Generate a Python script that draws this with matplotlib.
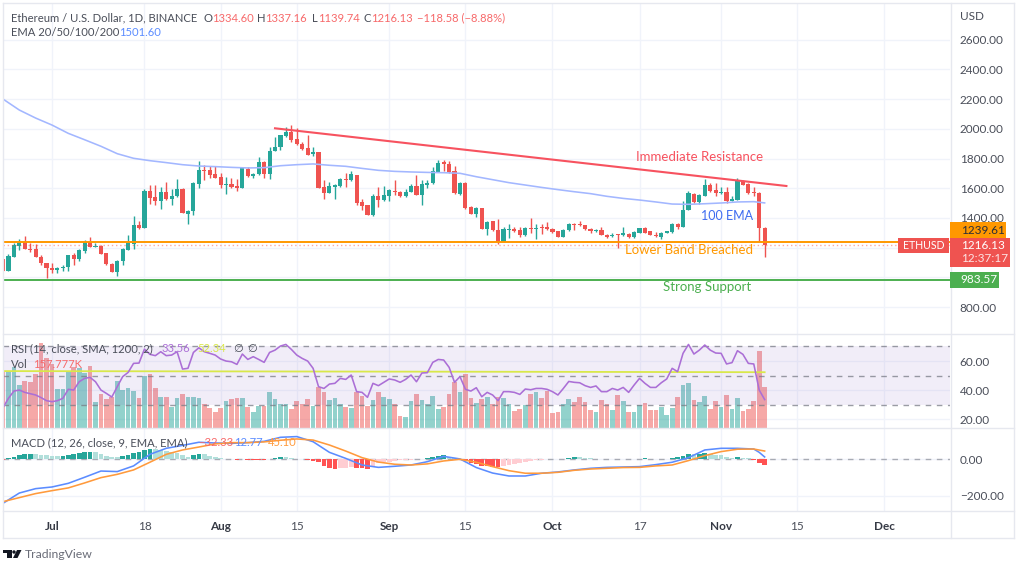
import matplotlib
matplotlib.use("Agg")
import matplotlib.pyplot as plt
from matplotlib.patches import Rectangle, Polygon, Circle

W, H = 1024, 571
plt.rcParams['font.family'] = ['Lato', 'DejaVu Sans']

opens = [1122,1045,1139,1214,1241,1193,1189,1139,1097,1063,1052,1061,1070,1148,1124,1180,1236,1207,1214,1162,1092,1034,1108,1184,1225,1351,1333,1580,1539,1517,1575,1530,1548,1595,1429,1445,1631,1723,1721,1694,1674,1624,1629,1615,1602,1732,1685,1694,1777,1699,1849,1876,1950,1981,1934,1901,1874,1829,1842,1609,1571,1611,1615,1663,1654,1692,1508,1485,1418,1548,1521,1550,1584,1573,1550,1577,1615,1553,1624,1633,1712,1775,1766,1714,1564,1636,1474,1429,1467,1328,1377,1319,1241,1321,1326,1317,1285,1335,1324,1337,1337,1326,1310,1270,1319,1360,1357,1351,1328,1312,1319,1285,1279,1292,1283,1294,1272,1301,1335,1310,1288,1274,1301,1306,1360,1337,1454,1562,1505,1550,1622,1589,1566,1575,1517,1523,1651,1627,1573,1566,1334.6]
highs = [1122,1157,1234,1256,1279,1234,1225,1151,1099,1095,1072,1083,1151,1166,1191,1252,1274,1229,1218,1166,1095,1117,1196,1285,1413,1382,1593,1624,1624,1606,1645,1593,1660,1600,1454,1642,1782,1757,1750,1750,1705,1674,1672,1660,1737,1746,1705,1813,1786,1880,1943,1961,2015,2024,2004,1914,1957,1880,1842,1656,1645,1629,1667,1701,1719,1692,1526,1487,1562,1606,1615,1593,1656,1584,1593,1629,1690,1656,1656,1746,1791,1791,1784,1750,1645,1645,1481,1472,1467,1382,1382,1391,1342,1357,1342,1337,1342,1398,1360,1360,1371,1330,1315,1324,1364,1364,1382,1355,1335,1324,1342,1292,1301,1292,1342,1301,1310,1333,1340,1315,1306,1306,1315,1364,1364,1517,1584,1571,1562,1660,1638,1633,1606,1611,1548,1672,1656,1638,1606,1575,1337.16]
lows = [1045,1045,1139,1184,1191,1173,1135,1083,998,1032,1032,1045,1045,1083,1110,1162,1202,1205,1155,1083,1034,1009,1083,1184,1191,1324,1333,1494,1487,1458,1521,1487,1544,1434,1357,1420,1600,1656,1672,1667,1604,1562,1600,1582,1602,1678,1667,1690,1667,1663,1849,1858,1948,1912,1889,1858,1822,1820,1600,1528,1566,1528,1606,1606,1649,1487,1454,1418,1416,1476,1517,1517,1555,1539,1539,1573,1555,1487,1600,1629,1707,1717,1701,1559,1557,1463,1425,1409,1324,1283,1315,1225,1241,1263,1306,1274,1279,1301,1256,1290,1319,1301,1270,1270,1315,1319,1346,1319,1301,1308,1283,1265,1274,1196,1279,1267,1267,1297,1297,1283,1270,1256,1297,1301,1328,1337,1454,1503,1494,1550,1577,1548,1562,1503,1517,1523,1622,1562,1550,1241,1139.74]
closes = [1045,1144,1218,1241,1191,1184,1135,1095,1063,1052,1061,1072,1148,1124,1184,1236,1207,1214,1160,1090,1034,1112,1189,1229,1355,1330,1580,1535,1517,1575,1528,1548,1595,1434,1447,1636,1721,1719,1692,1672,1624,1629,1611,1602,1737,1681,1694,1775,1699,1853,1880,1957,1981,1927,1896,1867,1824,1844,1600,1571,1615,1624,1663,1654,1696,1503,1483,1418,1550,1521,1553,1586,1573,1548,1577,1615,1555,1627,1633,1714,1773,1764,1707,1571,1636,1465,1429,1467,1328,1373,1319,1241,1324,1326,1315,1285,1333,1324,1333,1333,1324,1308,1274,1319,1362,1351,1353,1326,1310,1319,1288,1272,1288,1285,1297,1272,1306,1330,1301,1285,1281,1297,1312,1362,1337,1454,1566,1508,1555,1622,1584,1571,1575,1514,1528,1649,1622,1566,1566,1334,1216.13]

volumes_k = [215,215,237,166,182,177,209,327,269,246,149,149,217,237,233,213,239,98,131,111,120,181,146,156,142,114,200,209,155,120,120,81,114,131,119,119,114,94,75,63,75,105,111,114,116,81,61,84,84,140,111,94,91,74,102,91,110,84,159,137,107,116,91,81,75,137,124,85,107,137,118,110,91,45,43,102,131,107,91,125,72,81,131,178,137,209,114,96,112,119,94,120,114,94,66,72,88,131,137,114,144,58,61,91,110,101,119,101,67,61,107,92,70,128,102,61,61,89,96,70,70,80,49,75,119,166,175,107,98,125,72,102,81,128,72,114,66,72,102,297,157.777]

rsi_values = [28.0,34.4,39.4,40.1,38.5,37.6,36.7,34.9,32.8,32.1,32.8,34.4,40.6,40.1,45.8,48.1,48.8,45.8,40.1,37.8,35.3,42.4,49.3,52.2,58.4,58.6,68.2,64.6,63.7,66.4,63.7,64.1,66.4,54.5,55.0,65.9,69.1,66.4,65.3,64.1,61.4,60.0,59.5,57.7,64.8,61.1,63.0,61.1,59.1,65.9,67.5,70.3,71.4,68.0,64.1,61.8,60.0,55.0,42.4,41.2,44.2,44.7,48.1,47.4,50.4,39.0,38.5,35.1,44.7,43.1,45.4,47.7,47.0,45.4,47.4,50.4,45.8,51.8,52.0,59.1,61.1,60.7,55.7,45.4,49.3,40.6,39.4,41.7,35.5,38.5,36.7,32.8,39.0,39.0,38.5,37.1,40.8,40.3,41.2,41.2,40.6,39.0,36.7,41.2,46.0,45.4,45.1,43.1,41.9,42.9,39.0,39.0,41.2,40.1,41.9,38.5,43.5,48.1,44.7,41.9,41.9,45.1,47.7,55.0,52.7,65.3,71.4,64.8,67.5,71.0,67.5,65.5,65.3,58.0,58.9,67.1,64.6,58.4,58.0,40.1,33.56]
rsi_ma_idx = [0, 60, 100, 140]
rsi_ma_values = [53.1, 52.8, 52.6, 52.34]

macd_hist = [-5,5,15,24,27,31,27,24,22,20,16,20,24,29,33,38,40,38,29,20,15,11,20,24,33,38,51,56,55,51,47,42,33,24,15,24,29,27,20,15,5,2,0.5,-5,-1,-4,-4,-4,-4,2,9,15,15,9,4,1,-2,-7,-16,-36,-45,-53,-49,
             -45,-40,-49,-49,-55,-35,-22,-16,-13,-9,-5,-4,-2,1,2,5,11,20,24,15,5,2,-9,-22,-27,-35,-36,-42,-44,-35,-31,-27,-22,-16,-11,-5,-4,1,1,1,4,9,13,13,9,5,2,1,1,1,1,4,1,2,4,5,2,2,4,4,7,11,
             20,27,27,31,35,27,24,22,15,9,11,9,5,-2,-22,-32.33]
macd_idx = [0,3,6,9,12,15,18,21,24,27,30,33,36,39,42,45,48,51,54,57,60,63,66,69,72,75,78,81,84,87,90,93,96,99,102,105,108,111,114,117,120,123,126,129,132,135,138,139,140]
macd_line = [-240,-184,-160,-151,-131,-98,-64,-67,-36,27,60,76,93,89,87,91,98,120,124,96,38,5,-31,-44,-38,-31,-13,16,2,-45,-75,-91,-91,-76,-69,-58,-49,-44,-42,-40,-29,-16,9,51,60,60,56,38,12.77]
signal_idx = [0,3,6,9,12,15,18,21,24,27,30,33,36,39,42,45,48,51,54,57,60,63,66,69,72,75,78,81,84,87,90,93,96,99,102,105,108,111,114,117,120,123,126,129,132,135,138,140]
signal_line = [-231,-209,-187,-171,-156,-129,-100,-82,-58,-16,27,51,67,84,91,91,95,104,111,105,78,45,9,-15,-27,-31,-25,-9,0,-16,-40,-62,-76,-76,-71,-60,-53,-49,-45,-44,-36,-31,-7,20,42,55,56,45.1]
ema_idx = signal_idx
ema100 = [2201,2127,2073,2026,1970,1927,1883,1833,1802,1786,1773,1759,1750,1746,1741,1737,1739,1752,1759,1764,1755,1748,1734,1721,1714,1710,1707,1705,1701,1678,1658,1638,1622,1606,1591,1577,1564,1546,1532,1521,1508,1494,1492,1496,1501,1508,1510,1501.6]

trend_days = [41, 135]
trend_prices = [2004, 1615.5]
level_lower = 1239.61
level_support = 983.57
last_price = 1216.13

price_ticks = [800,1000,1200,1400,1600,1800,2000,2200,2400,2600]
price_labels = ['800.00','','','1400.00','1600.00','1800.00','2000.00','2200.00','2400.00','2600.00']
rsi_ticks = [20,40,60]
rsi_labels = ['20.00','40.00','60.00']
macd_ticks = [-200,0]
macd_labels = ['\u2212200.00','0.00']
time_days = [0,17,31,45,62,76,92,108,123,137,153]
time_labels = ['Jul','18','Aug','15','Sep','15','Oct','17','Nov','15','Dec']
month_names = {'Jul','Aug','Sep','Oct','Nov','Dec'}

assert all(len(a) == 141 for a in (opens, highs, lows, closes, volumes_k, rsi_values, macd_hist)), \
    [len(a) for a in (opens, highs, lows, closes, volumes_k, rsi_values, macd_hist)]

GREEN, RED = '#26a69a', '#ef5350'
GRID = '#f0f3fa'
BORDER = '#e6e8ef'
TXT = '#4a4e59'
FS = 8.5
LEG = 8.1
days = [i - 9 for i in range(141)]
colors = [GREEN if c >= o else RED for o, c in zip(opens, closes)]

fig = plt.figure(figsize=(W/100, H/100), dpi=100, facecolor='white')

def pane(x0, y0, x1, y1):
    return fig.add_axes([x0/W, 1-y1/H, (x1-x0)/W, (y1-y0)/H])

XL = (-9.0, 165.07)
def style(ax, yticks, ylabels):
    ax.set_xlim(*XL)
    ax.set_xticks(time_days)
    ax.set_xticklabels([])
    ax.set_yticks(yticks)
    ax.set_yticklabels(ylabels)
    ax.tick_params(axis='both', length=0, labelsize=FS, labelcolor=TXT, pad=7)
    ax.grid(True, color=GRID, lw=1)
    ax.set_axisbelow(True)
    for s in ax.spines.values():
        s.set_visible(False)

# ---- price pane
ax = pane(3, 3, 950, 337)
ax.set_ylim(598.6, 2847.8)
style(ax, price_ticks, price_labels)
ax.yaxis.tick_right()
ax.vlines(days, lows, highs, color=colors, lw=1.0, zorder=3)
ax.bar(days, [c-o for o, c in zip(opens, closes)], bottom=opens, width=0.76, color=colors, lw=0, zorder=4)
ax.plot([i-9 for i in ema_idx], ema100, color='#a3b7ff', lw=1.15, zorder=5)
ax.plot(trend_days, trend_prices, color='#f7525f', lw=1.5, zorder=6)
ax.axhline(level_lower, color='#ff9800', lw=1.4, zorder=6)
ax.axhline(level_support, color='#4caf50', lw=1.4, zorder=6)
ax.axhline(last_price, color='#ef5350', lw=1, ls=(0, (1, 2)), alpha=0.5, zorder=5)

# ---- RSI + volume pane
ax_r = pane(3, 337, 950, 428)
ax_r.set_ylim(14.05, 76.5)
style(ax_r, rsi_ticks, rsi_labels)
ax_v = ax_r.twinx()
ax_v.set_ylim(-1, 352)
ax_v.set_xlim(*XL)
ax_v.set_yticks([])
for s in ax_v.spines.values():
    s.set_visible(False)
ax_v.bar(days, volumes_k, width=0.86, color=colors, alpha=0.5, lw=0)
ax_v.set_zorder(2)
ax_r.set_zorder(1)
ax_v.patch.set_visible(False)
# band and oscillator drawn above the volume
ax_b = ax_r.twinx()
ax_b.set_ylim(14.05, 76.5)
ax_b.set_xlim(*XL)
ax_b.set_yticks([])
ax_b.set_zorder(3)
ax_b.patch.set_visible(False)
for s in ax_b.spines.values():
    s.set_visible(False)
ax_b.axhspan(30, 70, color='#7e57c2', alpha=0.10, lw=0)
for lv in (70, 50, 30):
    ax_b.axhline(lv, color='#787b86', lw=1, ls=(0, (4, 4)), alpha=0.75)
ax_b.plot([i-9 for i in rsi_ma_idx], rsi_ma_values, color='#d9e84a', lw=1.3)
ax_b.plot(days, rsi_values, color='#ab6fd6', lw=1.15)
ax_r.yaxis.tick_right()
ax_r.tick_params(axis='y', length=0, labelsize=FS, labelcolor=TXT, pad=7)

# ---- MACD pane
ax_m = pane(3, 428, 950, 511)
ax_m.set_ylim(-282, 170.8)
style(ax_m, macd_ticks, macd_labels)
ax_m.yaxis.tick_right()
hist_colors = []
for i, v in enumerate(macd_hist):
    prev = macd_hist[i-1] if i else v
    if v >= 0:
        hist_colors.append('#26a69a' if v > prev else '#b2dfdb')
    else:
        hist_colors.append('#ffcdd2' if v > prev else '#ff5252')
ax_m.bar(days, macd_hist, width=0.86, color=hist_colors, lw=0, zorder=3)
ax_m.axhline(0, color='#787b86', lw=1, ls=(0, (4, 4)), alpha=0.6, zorder=2)
ax_m.plot([i-9 for i in macd_idx], macd_line, color='#5b8cff', lw=1.15, zorder=4)
ax_m.plot([i-9 for i in signal_idx], signal_line, color='#ff9a3c', lw=1.15, zorder=4)
ax_m.set_xticklabels(time_labels)
ax_m.tick_params(axis='x', pad=7)
for lab in ax_m.get_xticklabels():
    if lab.get_text() in month_names:
        lab.set_fontweight('bold')
        lab.set_color('#363a45')

# ---- overlay in pixel space
ov = fig.add_axes([0, 0, 1, 1], facecolor='none')
ov.set_xlim(0, W)
ov.set_ylim(H, 0)
ov.axis('off')
ov.set_zorder(10)

def price_y(p):
    y0, y1 = ax.get_ylim()
    return 337 - (p - y0) / (y1 - y0) * (337 - 3)

for seg in [((2.5, 2.5), (2.5, 537.5)), ((2.5, 1013.5), (2.5, 2.5)), ((2.5, 1013.5), (537.5, 537.5)),
            ((1013.5, 1013.5), (2.5, 537.5)), ((950.5, 950.5), (2.5, 537.5)),
            ((2.5, 1013.5), (333.5, 333.5)), ((2.5, 1013.5), (428, 428)), ((2.5, 1013.5), (511, 511))]:
    ov.plot(seg[0], seg[1], color=BORDER, lw=1)

def t(x, y, s, color=TXT, size=LEG, ha='left', **kw):
    ov.text(x, y, s, color=color, fontsize=size, ha=ha, va='center', **kw)

RT = '#f7696a'
t(11, 18, 'Ethereum / U.S. Dollar, 1D, BINANCE')
t(203, 18, 'O'); t(212, 18, '1334.60', RT)
t(257, 18, 'H'); t(265, 18, '1337.16', RT)
t(312, 18, 'L'); t(318, 18, '1139.74', RT)
t(363, 18, 'C'); t(371, 18, '1216.13', RT)
t(417, 18, '\u2212118.58 (\u22128.88%)', RT)
t(11, 33, 'EMA 20/50/100/200'); t(119, 33, '1501.60', '#5b8cff')
t(960, 16, 'USD', size=FS)

t(11, 349, 'RSI (14, close, SMA, 1200, 2)')
t(162, 349, '33.56', '#ab6fd6'); t(197, 349, '52.34', '#d9e84a')
t(233, 349, '\u2205'); t(247, 349, '\u2205')
t(11, 365, 'Vol'); t(33, 365, '157.777K', RT)
t(11, 443, 'MACD (12, 26, close, 9, EMA, EMA)')
t(198, 443, '\u221232.33', RT); t(234, 443, '12.77', '#5b8cff'); t(268, 443, '45.10', '#ff9a3c')

ANN = 9.5
t(636, 157, 'Immediate Resistance', '#f7525f', ANN)
t(701, 216, '100 EMA', '#3d6bf0', 9.0)
t(625, 250, 'Lower Band Breached', '#ff9800', ANN)
t(663, 287, 'Strong Support', '#4caf50', ANN)

def tag(x0, x1, yc, h, fill):
    ov.add_patch(Rectangle((x0, yc-h/2), x1-x0, h, facecolor=fill, edgecolor='none', zorder=5))

tag(950, 1006, price_y(level_lower) - 11.8, 16, '#ff9800')
t(961, price_y(level_lower) - 11.8, '1239.61', '#2a2e39', FS, zorder=6)
tag(950, 1009.5, price_y(last_price) + 7, 29, '#ef5350')
t(961, price_y(last_price) + 0.5, '1216.13', 'white', FS, zorder=6)
t(961, price_y(last_price) + 13.5, '12:37:17', '#fde3e3', FS, zorder=6)
tag(898, 949, price_y(last_price), 15, '#ef5350')
t(923.5, price_y(last_price), 'ETHUSD', 'white', 7.6, ha='center', zorder=6)
tag(950, 999, price_y(level_support), 16, '#4caf50')
t(960, price_y(level_support), '983.57', 'white', FS, zorder=6)

# TradingView mark
ov.add_patch(Polygon([(3, 550), (12, 550), (12, 558), (7, 558), (7, 553), (3, 553)], color='#131722', lw=0))
ov.add_patch(Circle((14, 552), 1.7, color='#131722', lw=0))
ov.add_patch(Polygon([(17, 550), (21.5, 550), (17.5, 558), (13, 558)], color='#131722', lw=0))
t(25, 555, 'TradingView', '#6a6d78', 8.8)

fig.savefig('out.png', dpi=100, facecolor='white')
